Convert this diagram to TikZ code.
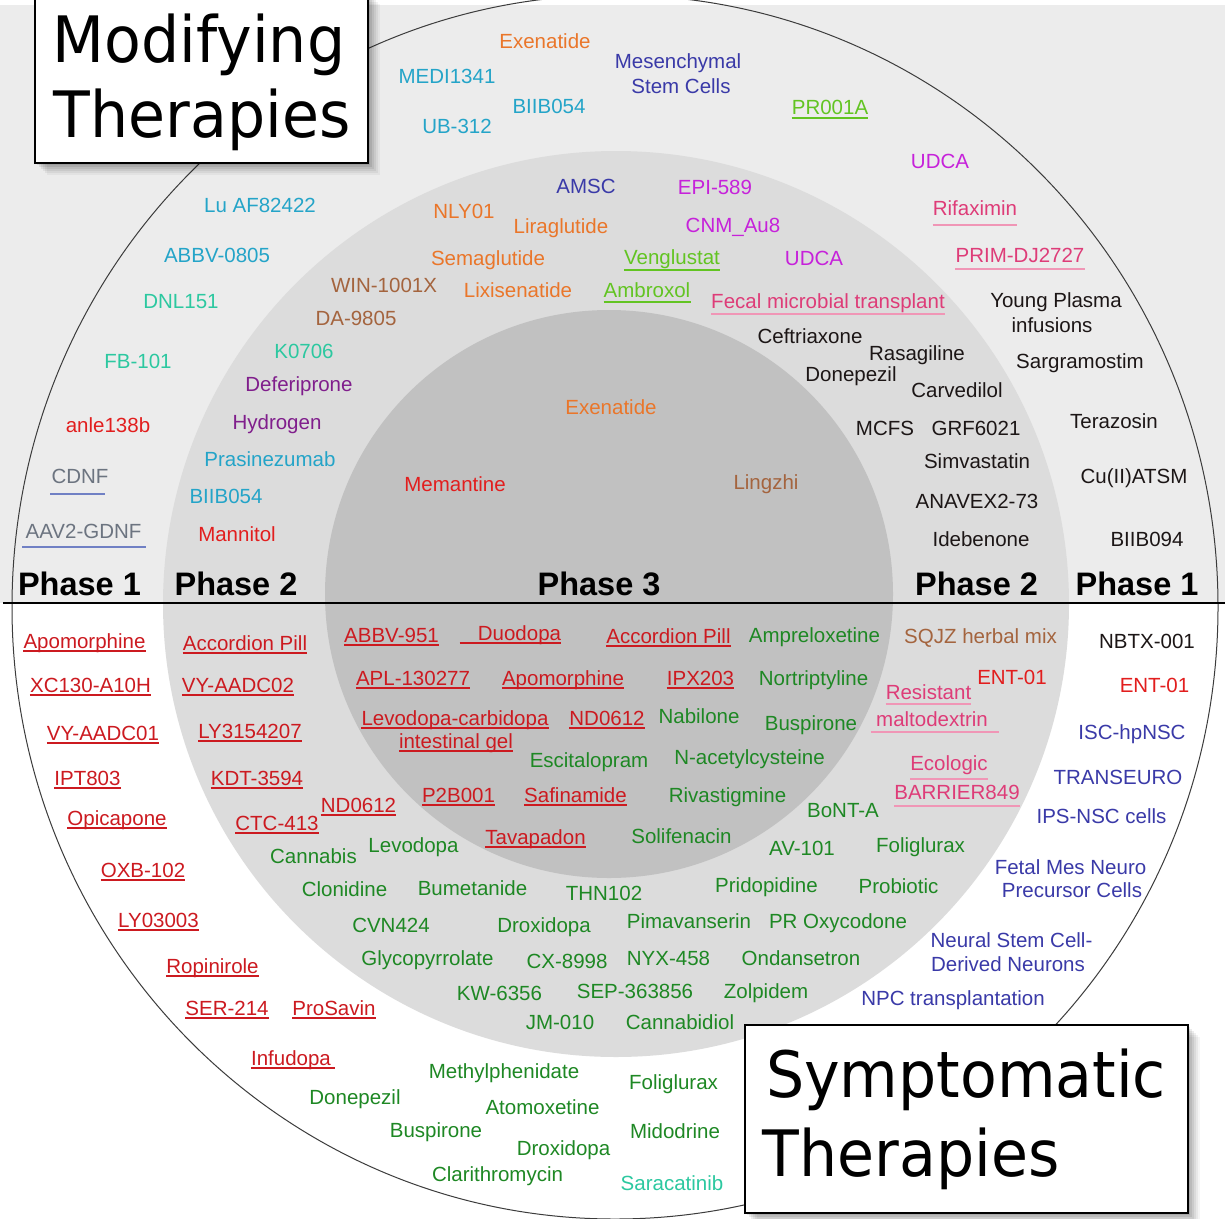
\documentclass[tikz,border=0pt]{standalone}
\usepackage{fontspec}
\setmainfont{Liberation Sans}
\newfontfamily\titlefont[FakeStretch=0.94]{DejaVu Sans}

\definecolor{cOrange}{RGB}{234,118,42}
\definecolor{cCyan}{RGB}{36,164,200}
\definecolor{cTeal}{RGB}{44,200,160}
\definecolor{cIndigo}{RGB}{58,58,168}
\definecolor{cLime}{RGB}{98,196,34}
\definecolor{cMagenta}{RGB}{198,34,218}
\definecolor{cPink}{RGB}{222,60,120}
\definecolor{cPinkLine}{RGB}{240,150,182}
\definecolor{cBrown}{RGB}{164,100,62}
\definecolor{cPurple}{RGB}{128,30,140}
\definecolor{cRed}{RGB}{226,30,30}
\definecolor{cDarkRed}{RGB}{204,26,32}
\definecolor{cSlate}{RGB}{108,116,128}
\definecolor{cSlateLine}{RGB}{112,128,196}
\definecolor{cInk}{RGB}{28,22,22}
\definecolor{cGreen}{RGB}{30,136,36}
\definecolor{bgTop}{RGB}{236,236,236}
\definecolor{ringMid}{RGB}{220,220,220}
\definecolor{ringIn}{RGB}{193,193,193}

% underline below a label: style, node, offset below the baseline
\newcommand\ulin[3]{\draw[#1] ([yshift=-#3pt]#2.base west) -- ([yshift=-#3pt]#2.base east);}
% same, with the line stretched left / right
\newcommand\ulinx[5]{\draw[#1] ([xshift=#4pt,yshift=-#3pt]#2.base west) -- ([xshift=#5pt,yshift=-#3pt]#2.base east);}
% soft shadow under a box given by its corners x1,y1,x2,y2
\newcommand\softshadow[4]{%
  \foreach \s/\o in {2/0.09,4/0.08,6/0.07,8/0.06,10/0.05,12/0.04}
    {\fill[black,opacity=\o] (#1+\s,#2+\s) rectangle (#3+\s,#4+\s);}}

\begin{document}
\begin{tikzpicture}[x=1pt,y=-1pt,
  lbl/.style={inner sep=0pt, anchor=base, font=\fontsize{20.5}{23}\selectfont},
  tOrange/.style={lbl,text=cOrange},
  tCyan/.style={lbl,text=cCyan},
  tTeal/.style={lbl,text=cTeal},
  tIndigo/.style={lbl,text=cIndigo},
  tLime/.style={lbl,text=cLime},
  tMagenta/.style={lbl,text=cMagenta},
  tPink/.style={lbl,text=cPink},
  tBrown/.style={lbl,text=cBrown},
  tPurple/.style={lbl,text=cPurple},
  tRed/.style={lbl,text=cRed},
  tDRed/.style={lbl,text=cDarkRed},
  tSlate/.style={lbl,text=cSlate},
  tInk/.style={lbl,text=cInk},
  tGreen/.style={lbl,text=cGreen},
  uRed/.style={draw=cDarkRed,line width=1.8pt},
  uLime/.style={draw=cLime,line width=2.2pt},
  uPink/.style={draw=cPinkLine,line width=2.4pt},
  uSlate/.style={draw=cSlateLine,line width=2pt},
  phase/.style={inner sep=0pt, anchor=base, text=black, font=\fontsize{32.5}{36}\selectfont\bfseries},
  titlebox/.style={draw=black, line width=2.4pt, fill=white},
  titletext/.style={inner sep=0pt, anchor=base, text=black, font=\titlefont\fontsize{64}{70}\selectfont},
]
\useasboundingbox (0,0) rectangle (1225,1218);
\fill[white] (0,0) rectangle (1225,1218);

% upper half background and the nested phase discs
\fill[bgTop] (0,5) rectangle (1225,603);
\fill[ringMid] (616,604) circle (453);
\fill[ringIn] (609,594) circle (284);
\draw[draw={rgb,255:red,60;green,60;blue,60}, line width=1pt]
  (615,607) ellipse [x radius=603, y radius=612];
\draw[line width=2.6pt] (3,603) -- (1225,603);

% ---------------- disease-modifying therapies ----------------
\node[tOrange] (exenA) at (545,48) {Exenatide};
\node[tCyan] (medi) at (447,83) {MEDI1341};
\node[tIndigo] (mscA) at (678,68) {Mesenchymal};
\node[tIndigo] (mscB) at (681,93) {Stem Cells};
\node[tCyan] (biibA) at (549,113) {BIIB054};
\node[tCyan] (ub) at (457,133) {UB-312};
\node[tLime] (pr) at (830,114) {PR001A};
\node[tMagenta] (udcaA) at (940,168) {UDCA};
\node[tIndigo] (amsc) at (586,193) {AMSC};
\node[tMagenta] (epi) at (715,194) {EPI-589};
\node[tOrange] (nly) at (464,218) {NLY01};
\node[tOrange] (lira) at (561,233) {Liraglutide};
\node[tMagenta] (cnm) at (733,232) {CNM\_Au8};
\node[tPink] (rifa) at (975,215) {Rifaximin};
\node[tCyan] (luaf) at (260,212) {Lu AF82422};
\node[tOrange] (sema) at (488,265) {Semaglutide};
\node[tLime] (veng) at (672,264) {Venglustat};
\node[tMagenta] (udcaB) at (814,265) {UDCA};
\node[tPink] (prim) at (1020,262) {PRIM-DJ2727};
\node[tCyan] (abbv) at (217,262) {ABBV-0805};
\node[tBrown] (win) at (384,292) {WIN-1001X};
\node[tOrange] (lixi) at (518,297) {Lixisenatide};
\node[tLime] (ambr) at (647,297) {Ambroxol};
\node[tPink] (fecal) at (828,308) {Fecal microbial transplant};
\node[tInk] (ypA) at (1056,307) {Young Plasma};
\node[tInk] (ypB) at (1052,332) {infusions};
\node[tTeal] (dnl) at (181,308) {DNL151};
\node[tBrown] (da) at (356,325) {DA-9805};
\node[tInk] (ceft) at (810,343) {Ceftriaxone};
\node[tTeal] (k07) at (304,358) {K0706};
\node[tInk] (rasa) at (917,360) {Rasagiline};
\node[tInk] (donA) at (851,381) {Donepezil};
\node[tInk] (sarg) at (1080,368) {Sargramostim};
\node[tTeal] (fb) at (138,368) {FB-101};
\node[tPurple] (defe) at (299,391) {Deferiprone};
\node[tInk] (carv) at (957,397) {Carvedilol};
\node[tOrange] (exenB) at (611,414) {Exenatide};
\node[tRed] (anle) at (108,432) {anle138b};
\node[tPurple] (hydr) at (277,429) {Hydrogen};
\node[tInk] (mcfs) at (885,435) {MCFS};
\node[tInk] (grf) at (976,435) {GRF6021};
\node[tInk] (tera) at (1114,428) {Terazosin};
\node[tCyan] (pras) at (270,466) {Prasinezumab};
\node[tInk] (simv) at (977,468) {Simvastatin};
\node[tSlate] (cdnf) at (80,483) {CDNF};
\node[tRed] (mema) at (455,491) {Memantine};
\node[tBrown] (ling) at (766,489) {Lingzhi};
\node[tInk] (cuat) at (1134,483) {Cu(II)ATSM};
\node[tCyan] (biibB) at (226,503) {BIIB054};
\node[tInk] (anav) at (977,508) {ANAVEX2-73};
\node[tSlate] (aav) at (83.5,538) {AAV2-GDNF};
\node[tRed] (mann) at (237,541) {Mannitol};
\node[tInk] (ideb) at (981,546) {Idebenone};
\node[tInk] (b094) at (1147,546) {BIIB094};

\ulin{uLime}{pr}{4}
\ulin{uLime}{veng}{6}
\ulin{uLime}{ambr}{5}
\ulin{uPink}{rifa}{10}
\ulin{uPink}{prim}{7}
\ulin{uPink}{fecal}{6}
\ulinx{uSlate}{cdnf}{11}{-1}{-4}
\ulinx{uSlate}{aav}{9}{-3}{4}

% ---------------- phase headings ----------------
\node[phase] (p1L) at (79.5,595) {Phase 1};
\node[phase] (p2L) at (236,595) {Phase 2};
\node[phase] (p3) at (599,595) {Phase 3};
\node[phase] (p2R) at (976.5,595) {Phase 2};
\node[phase] (p1R) at (1137,595) {Phase 1};

% ---------------- symptomatic therapies ----------------
\node[tDRed] (apoA) at (84.5,648) {Apomorphine};
\node[tDRed] (xc) at (90.5,692) {XC130-A10H};
\node[tDRed] (vy1) at (103,740) {VY-AADC01};
\node[tDRed] (ipt) at (87.5,785) {IPT803};
\node[tDRed] (opi) at (117,825) {Opicapone};
\node[tDRed] (oxb) at (143,877) {OXB-102};
\node[tDRed] (ly03) at (158.5,927) {LY03003};
\node[tDRed] (ropi) at (212.5,973) {Ropinirole};
\node[tDRed] (ser) at (227,1015) {SER-214};
\node[tDRed] (pros) at (334,1015) {ProSavin};
\node[tDRed] (infu) at (291,1065) {Infudopa};
\node[tDRed] (accA) at (245,650) {Accordion Pill};
\node[tDRed] (vy2) at (238,692) {VY-AADC02};
\node[tDRed] (ly31) at (250,738) {LY3154207};
\node[tDRed] (kdt) at (257,785) {KDT-3594};
\node[tDRed] (ndA) at (358.5,812) {ND0612};
\node[tDRed] (ctc) at (277,830) {CTC-413};
\node[tDRed] (ab951) at (391.5,642) {ABBV-951};
\node[tDRed] (duo) at (519.5,640) {Duodopa};
\node[tDRed] (accB) at (668.5,643) {Accordion Pill};
\node[tDRed] (apl) at (413,685) {APL-130277};
\node[tDRed] (apoB) at (563,685) {Apomorphine};
\node[tDRed] (ipx) at (700.5,685) {IPX203};
\node[tDRed] (levcA) at (455,725) {Levodopa-carbidopa};
\node[tDRed] (levcB) at (456,748) {intestinal gel};
\node[tDRed] (ndB) at (607,725) {ND0612};
\node[tDRed] (p2b) at (458.5,802) {P2B001};
\node[tDRed] (safi) at (575.5,802) {Safinamide};
\node[tDRed] (tava) at (535.5,844) {Tavapadon};

\foreach \n in {apoA,xc,vy1,ipt,opi,oxb,ly03,ropi,ser,pros,accA,vy2,ly31,kdt,ndA,ctc,
  ab951,accB,apl,apoB,ipx,levcA,levcB,ndB,p2b,safi,tava}{\ulin{uRed}{\n}{3}}
\ulinx{uRed}{infu}{3}{0}{4}
\ulinx{uRed}{duo}{3}{-18}{0}

\node[tGreen] (ampr) at (814.5,642) {Ampreloxetine};
\node[tGreen] (nort) at (813.5,685) {Nortriptyline};
\node[tGreen] (nabi) at (699,723) {Nabilone};
\node[tGreen] (buspA) at (811,730) {Buspirone};
\node[tGreen] (esci) at (589,767) {Escitalopram};
\node[tGreen] (nacet) at (749.5,764) {N-acetylcysteine};
\node[tGreen] (riva) at (727.5,802) {Rivastigmine};
\node[tGreen] (bont) at (843,817) {BoNT-A};
\node[tGreen] (soli) at (681.5,843) {Solifenacin};
\node[tGreen] (av) at (802,855) {AV-101};
\node[tGreen] (foliA) at (920.5,852) {Foliglurax};
\node[tGreen] (cann) at (313.5,863) {Cannabis};
\node[tGreen] (levo) at (413.5,852) {Levodopa};
\node[tGreen] (clon) at (344.5,896) {Clonidine};
\node[tGreen] (bume) at (472.5,895) {Bumetanide};
\node[tGreen] (thn) at (604,900) {THN102};
\node[tGreen] (prid) at (766.5,892) {Pridopidine};
\node[tGreen] (prob) at (898.5,893) {Probiotic};
\node[tGreen] (cvn) at (391,932) {CVN424};
\node[tGreen] (droxA) at (544,932) {Droxidopa};
\node[tGreen] (pima) at (689,928) {Pimavanserin};
\node[tGreen] (prox) at (838,928) {PR Oxycodone};
\node[tGreen] (glyc) at (427.5,965) {Glycopyrrolate};
\node[tGreen] (cx) at (567,968) {CX-8998};
\node[tGreen] (nyx) at (668.5,965) {NYX-458};
\node[tGreen] (onda) at (801,965) {Ondansetron};
\node[tGreen] (kw) at (499.5,1000) {KW-6356};
\node[tGreen] (sep) at (635,998) {SEP-363856};
\node[tGreen] (zolp) at (766,998) {Zolpidem};
\node[tGreen] (jm) at (560,1029) {JM-010};
\node[tGreen] (cbd) at (680,1029) {Cannabidiol};
\node[tGreen] (meth) at (504,1078) {Methylphenidate};
\node[tGreen] (foliB) at (673.5,1089) {Foliglurax};
\node[tGreen] (donB) at (355,1104) {Donepezil};
\node[tGreen] (atom) at (542.5,1114) {Atomoxetine};
\node[tGreen] (buspB) at (436,1137) {Buspirone};
\node[tGreen] (mido) at (675,1138) {Midodrine};
\node[tGreen] (droxB) at (563.5,1155) {Droxidopa};
\node[tGreen] (clar) at (497.5,1181) {Clarithromycin};
\node[tTeal] (sara) at (672,1190) {Saracatinib};

\node[tBrown] (sqjz) at (980.5,643) {SQJZ herbal mix};
\node[tInk] (nbtx) at (1147,648) {NBTX-001};
\node[tRed] (entA) at (1012,684) {ENT-01};
\node[tRed] (entB) at (1154.5,692) {ENT-01};
\node[tPink] (resA) at (928.5,699) {Resistant};
\node[tPink] (resB) at (932,726) {maltodextrin};
\node[tIndigo] (isc) at (1132,739) {ISC-hpNSC};
\node[tPink] (eco) at (949,770) {Ecologic};
\node[tIndigo] (trans) at (1118,784) {TRANSEURO};
\node[tPink] (barr) at (957,799) {BARRIER849};
\node[tIndigo] (ips) at (1101.5,823) {IPS-NSC cells};
\node[tIndigo] (fetA) at (1070.5,874) {Fetal Mes Neuro};
\node[tIndigo] (fetB) at (1072,897) {Precursor Cells};
\node[tIndigo] (nscA) at (1011.5,947) {Neural Stem Cell-};
\node[tIndigo] (nscB) at (1008,971) {Derived Neurons};
\node[tIndigo] (npc) at (953,1005) {NPC transplantation};

\ulin{uPink}{resA}{5}
\ulinx{uPink}{resB}{6}{-5}{11}
\ulin{uPink}{eco}{9}
\ulin{uPink}{barr}{7}

% ---------------- title boxes ----------------
\softshadow{35}{-8}{368}{163}
\draw[titlebox] (35,-8) rectangle (368,163);
\node[titletext] (modA) at (199,62) {Modifying};
\node[titletext] (modB) at (202,137) {Therapies};

\softshadow{745}{1025}{1188}{1213}
\draw[titlebox] (745,1025) rectangle (1188,1213);
\node[titletext] (symA) at (966,1097) {Symptomatic};
\node[titletext] (symB) at (911,1176) {Therapies};
\end{tikzpicture}
\end{document}
